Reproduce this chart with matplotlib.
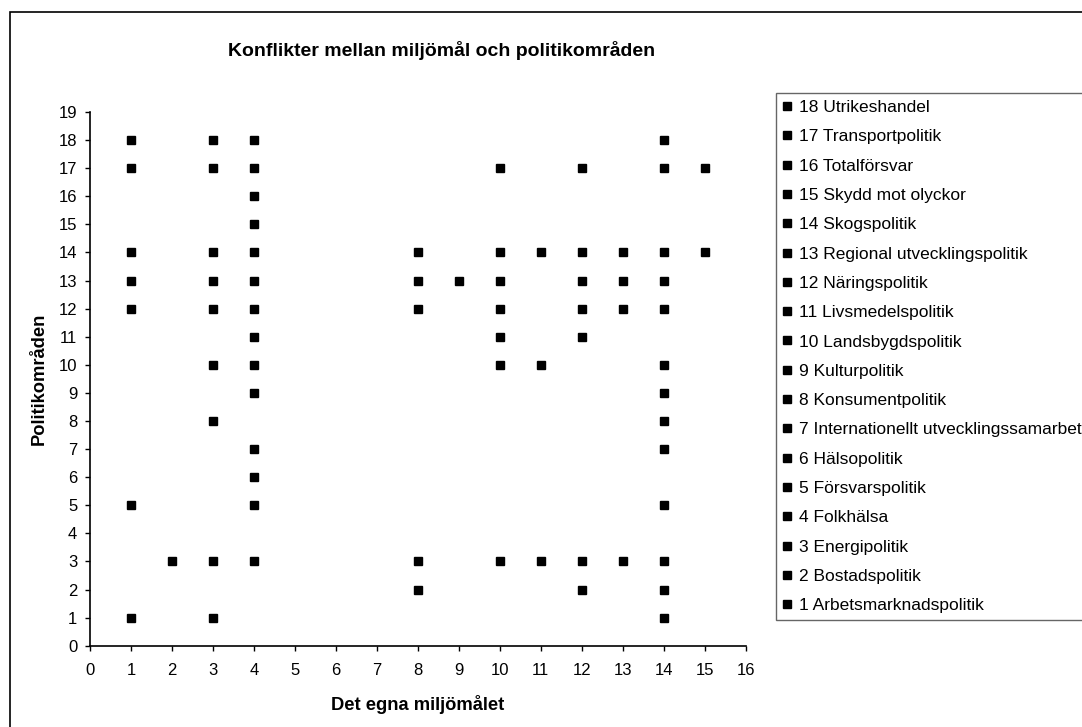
import matplotlib.pyplot as plt
from matplotlib.patches import Rectangle

plt.rcParams["font.family"] = ["Liberation Sans", "DejaVu Sans"]

area_names = [
    "1 Arbetsmarknadspolitik",
    "2 Bostadspolitik",
    "3 Energipolitik",
    "4 Folkhälsa",
    "5 Försvarspolitik",
    "6 Hälsopolitik",
    "7 Internationellt utvecklingssamarbete",
    "8 Konsumentpolitik",
    "9 Kulturpolitik",
    "10 Landsbygdspolitik",
    "11 Livsmedelspolitik",
    "12 Näringspolitik",
    "13 Regional utvecklingspolitik",
    "14 Skogspolitik",
    "15 Skydd mot olyckor",
    "16 Totalförsvar",
    "17 Transportpolitik",
    "18 Utrikeshandel",
]

# miljömål (x) som är i konflikt med respektive politikområde (y = 1..18)
area_goals = [
    [1, 3, 14],
    [8, 12, 14],
    [2, 3, 4, 8, 10, 11, 12, 13, 14],
    [],
    [1, 4, 14],
    [4],
    [4, 14],
    [3, 14],
    [4, 14],
    [3, 4, 10, 11, 14],
    [4, 10, 12],
    [1, 3, 4, 8, 10, 12, 13, 14],
    [1, 3, 4, 8, 9, 10, 12, 13, 14],
    [1, 3, 4, 8, 10, 11, 12, 13, 14, 15],
    [4],
    [4],
    [1, 3, 4, 10, 12, 14, 15],
    [1, 3, 4, 14],
]

W, H = 1082, 727
fig = plt.figure(figsize=(W / 100, H / 100), dpi=100)
ax = fig.add_axes([90 / W, 1 - 645.7 / H, (745.7 - 90) / W, (645.7 - 112) / H])

# draw from 18 down to 1 so the legend reads top-down like the original
for i in range(len(area_names) - 1, -1, -1):
    xs = area_goals[i]
    ys = [i + 1] * len(xs)
    ax.plot(xs, ys, linestyle="none", marker="s", markersize=5.8,
            color="black", label=area_names[i])

ax.set_xlim(0, 16)
ax.set_ylim(0, 19)
ax.set_xticks(range(0, 17))
ax.set_yticks(range(0, 20))
ax.spines["top"].set_visible(False)
ax.spines["right"].set_visible(False)
ax.spines["left"].set_linewidth(1.2)
ax.spines["bottom"].set_linewidth(1.2)
ax.tick_params(axis="both", direction="out", length=3.6, width=1.0,
               labelsize=12, colors="black")
ax.tick_params(axis="x", pad=9)
ax.tick_params(axis="y", pad=5.5)

fig.text(442 / W, 1 - 50 / H, "Konflikter mellan miljömål och politikområden",
         ha="center", va="center", fontsize=14, fontweight="bold")
fig.text(418 / W, 1 - 705 / H, "Det egna miljömålet",
         ha="center", va="center", fontsize=13.2, fontweight="bold")
fig.text(39 / W, 1 - 379 / H, "Politikområden", rotation=90,
         ha="center", va="center", fontsize=13.2, fontweight="bold")

leg = fig.legend(loc="upper left", bbox_to_anchor=(776 / W, 1 - 93 / H),
                 fontsize=12.5, frameon=True, fancybox=False,
                 handlelength=0.5, handletextpad=0.45, borderpad=0.4,
                 labelspacing=0.815, borderaxespad=0, markerscale=0.9)
leg.get_frame().set_edgecolor("#404040")
leg.get_frame().set_linewidth(1.0)

# chart area border, running off the right and bottom edges
fig.patches.append(Rectangle((10 / W, -0.1), 1.2, 1.1 - 12 / H,
                             transform=fig.transFigure, fill=False,
                             edgecolor="black", linewidth=1.2))

fig.savefig("out.png", dpi=100)
